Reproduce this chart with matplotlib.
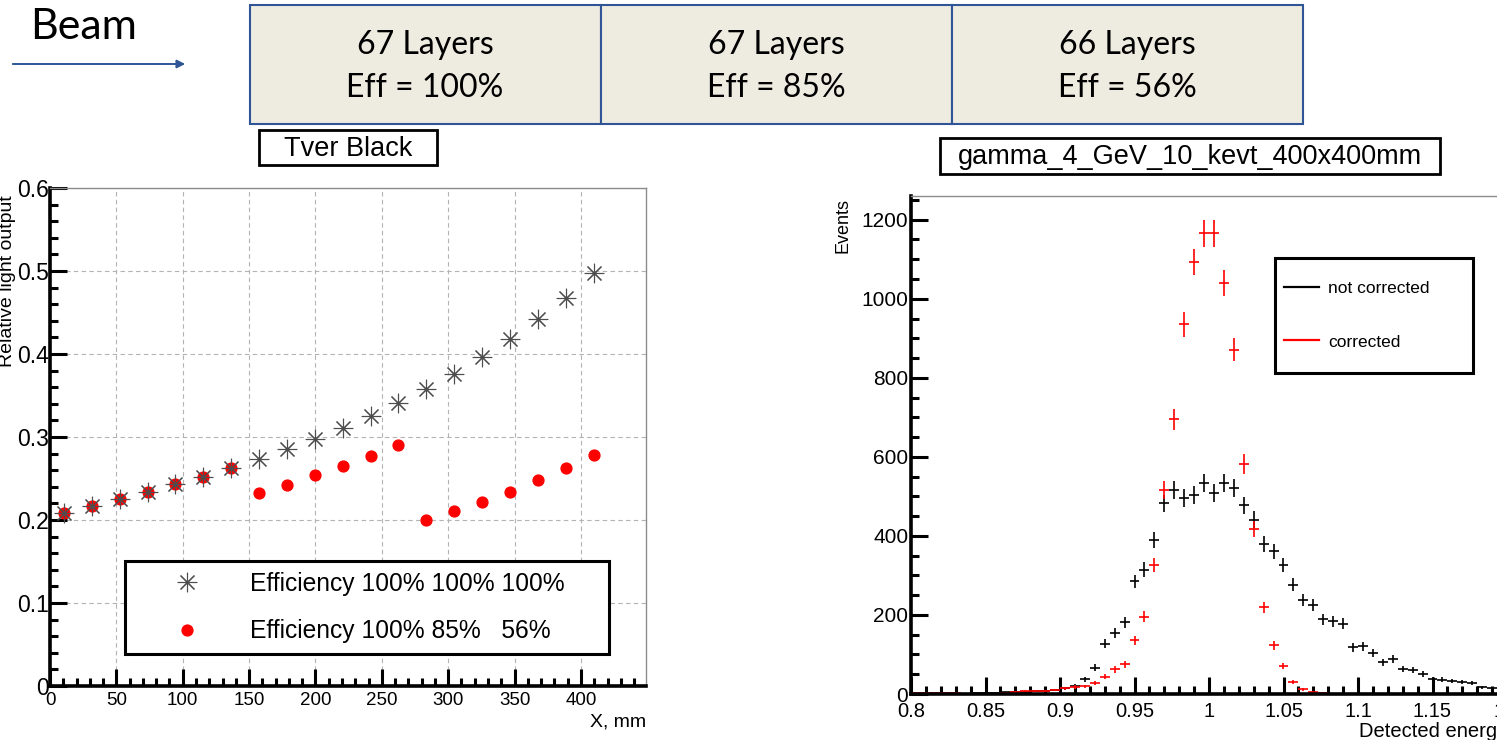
import numpy as np
import matplotlib
matplotlib.use("Agg")
from matplotlib import pyplot as plt
from matplotlib.patches import Rectangle, FancyArrowPatch
from matplotlib.lines import Line2D
from matplotlib.ticker import MultipleLocator, FuncFormatter

# ---- data ----
# left: relative light output along the module
pos_mm = [10.5, 31.5, 52.5, 73.5, 94.5, 115.5, 136.5, 157.5, 178.5, 199.5,
          220.5, 241.5, 262.5, 283.5, 304.5, 325.5, 346.5, 367.5, 388.5, 409.5]
light_full = [0.209, 0.217, 0.225, 0.234, 0.243, 0.252, 0.263, 0.274, 0.285, 0.298,
              0.311, 0.325, 0.341, 0.358, 0.376, 0.396, 0.418, 0.442, 0.468, 0.497]
light_reduced = [0.209, 0.217, 0.225, 0.234, 0.243, 0.252, 0.263, 0.233, 0.242, 0.254,
                 0.265, 0.277, 0.290, 0.200, 0.211, 0.222, 0.234, 0.248, 0.263, 0.278]
legend_left = ["Efficiency 100% 100% 100%", "Efficiency 100% 85%   56%"]

# right: detected energy histogram, 60 bins 0.8..1.2
edges = np.linspace(0.8, 1.2, 61)
not_corrected = [1, 0, 1, 1, 0, 1, 2, 2, 3, 4,
                 5, 6, 7, 8, 10, 15, 20, 37, 67, 127,
                 155, 181, 285, 315, 390, 482, 516, 496, 504, 533,
                 509, 534, 520, 477, 441, 380, 361, 326, 277, 238,
                 226, 189, 184, 178, 118, 121, 103, 80, 89, 63,
                 61, 50, 38, 36, 33, 30, 28, 17, 15, 11]
corrected = [2, 2, 3, 2, 3, 0, 1, 0, 1, 2,
             6, 7, 8, 8, 10, 14, 18, 19, 27, 44,
             62, 75, 136, 196, 326, 515, 695, 935, 1094, 1166,
             1166, 1040, 871, 582, 417, 219, 123, 71, 31, 12,
             5, 2, 1, 0, 0, 0, 0, 0, 0, 0,
             0, 0, 0, 0, 0, 0, 0, 0, 0, 0]
legend_right = ["not corrected", "corrected"]

layers = ["67 Layers", "67 Layers", "66 Layers"]
effs = ["Eff = 100%", "Eff = 85%", "Eff = 56%"]

W, H = 1497, 740
ROOT_FONT = "Liberation Sans"
SLIDE_FONT = "Lato"
BLUE = "#2F5597"
STAR = (8, 2, 0)   # 8-armed asterisk, like ROOT marker 3


def fig_rect(x, y, w, h):
    # pixel box (top-left origin) -> figure fraction
    return [x / W, 1 - (y + h) / H, w / W, h / H]


def root_axes(ax):
    for side in ("top", "right"):
        ax.spines[side].set_color("0.55")
        ax.spines[side].set_linewidth(1.0)
    for side in ("left", "bottom"):
        ax.spines[side].set_color("black")
        ax.spines[side].set_linewidth(2.6)
    ax.tick_params(which="both", direction="in", top=False, right=False,
                   width=2.2, colors="black")
    ax.tick_params(which="major", length=12)
    ax.tick_params(which="minor", length=6)


def boxed_legend(ax, handles, labels, box, size, **kw):
    # ROOT-like legend: plain thick frame, entries centred vertically in it
    ax.add_patch(Rectangle(box[:2], box[2], box[3], transform=ax.transAxes,
                           facecolor="white", edgecolor="black", lw=2.2,
                           zorder=4.8))
    return ax.legend(handles, labels, loc="center left", bbox_to_anchor=box,
                     mode="expand", prop={"family": ROOT_FONT, "size": size},
                     frameon=False, borderaxespad=0, **kw)


fig = plt.figure(figsize=(W / 100, H / 100), dpi=100)

# ---- slide header ----
fig.text(84 / W, 1 - 27 / H, "Beam", family=SLIDE_FONT, fontsize=31,
         ha="center", va="center")
fig.patches.append(FancyArrowPatch((10 / W, 1 - 64 / H), (188 / W, 1 - 64 / H),
                                   transform=fig.transFigure, arrowstyle="-|>",
                                   mutation_scale=12, color=BLUE, lw=1.4))
for i, (lay, eff) in enumerate(zip(layers, effs)):
    x0 = 250 + i * 351
    fig.patches.append(Rectangle(fig_rect(x0, 5, 351, 119)[:2], 351 / W, 119 / H,
                                 transform=fig.transFigure, facecolor="#EEECE1",
                                 edgecolor=BLUE, lw=1.5))
    fig.text((x0 + 175) / W, 1 - 45 / H, lay, family=SLIDE_FONT, fontsize=23,
             ha="center", va="center")
    fig.text((x0 + 175) / W, 1 - 88 / H, eff, family=SLIDE_FONT, fontsize=23,
             ha="center", va="center")

for (bx, by, bw, bh, label) in [(259, 130, 178, 35, "Tver Black"),
                                (940, 138, 500, 36, "gamma_4_GeV_10_kevt_400x400mm")]:
    fig.patches.append(Rectangle(fig_rect(bx, by, bw, bh)[:2], bw / W, bh / H,
                                 transform=fig.transFigure, facecolor="white",
                                 edgecolor="black", lw=2))
    fig.text((bx + bw / 2) / W, 1 - (by + bh / 2 + 1) / H, label, family=ROOT_FONT,
             fontsize=19.5, ha="center", va="center")

# ---- left plot: light output vs X ----
ax1 = fig.add_axes(fig_rect(50, 188, 596, 498))
root_axes(ax1)
ax1.plot(pos_mm, light_reduced, "o", color="red", ms=7.8, zorder=3)
ax1.plot(pos_mm, light_full, marker=STAR, ls="none", ms=14, mew=0.8,
         mec="0.3", zorder=4)
ax1.set_xlim(0, 449)
ax1.set_ylim(0, 0.6)
ax1.xaxis.set_major_locator(MultipleLocator(50))
ax1.xaxis.set_minor_locator(MultipleLocator(10))
ax1.yaxis.set_major_locator(MultipleLocator(0.1))
ax1.yaxis.set_minor_locator(MultipleLocator(0.02))
ax1.yaxis.set_major_formatter(FuncFormatter(lambda v, p: "%g" % round(v, 2)))
ax1.grid(True, which="major", ls=(0, (4, 3)), color="0.7", lw=0.8)
for lab in ax1.get_xticklabels():
    lab.set_family(ROOT_FONT)
    lab.set_fontsize(13.5)
for lab in ax1.get_yticklabels():
    lab.set_family(ROOT_FONT)
    lab.set_fontsize(16.5)
ax1.tick_params(axis="x", pad=4)
ax1.tick_params(axis="y", pad=1)
ax1.text(1.0, -0.072, "X, mm", transform=ax1.transAxes, ha="right", va="center",
         family=ROOT_FONT, fontsize=14)
ax1.text(-0.072, 0.985, "Relative light output", transform=ax1.transAxes,
         rotation=90, ha="center", va="top", family=ROOT_FONT, fontsize=14)
h_star = Line2D([], [], marker=STAR, ls="none", ms=14, mew=0.8, mec="0.3")
h_dot = Line2D([], [], marker="o", ls="none", ms=7.8, color="red")
boxed_legend(ax1, [h_star, h_dot], legend_left, (0.126, 0.064, 0.812, 0.187), 17.7,
             borderpad=0.45, handlelength=4.1, handletextpad=0.55, labelspacing=0.95)

# ---- right plot: detected energy histogram ----
ax2 = fig.add_axes(fig_rect(911, 196, 596, 498))
root_axes(ax2)
centers = 0.5 * (edges[:-1] + edges[1:])
half = 0.5 * (edges[1] - edges[0])
nc = np.array(not_corrected, dtype=float)
co = np.array(corrected, dtype=float)
ax2.errorbar(centers, nc, xerr=half, yerr=np.sqrt(nc), fmt="none",
             ecolor="black", elinewidth=1.2, capsize=0)
ax2.errorbar(centers, co, xerr=half, yerr=np.sqrt(co), fmt="none",
             ecolor="red", elinewidth=1.2, capsize=0)
ax2.set_xlim(0.8, 1.2)
ax2.set_ylim(0, 1260)
ax2.xaxis.set_major_locator(MultipleLocator(0.05))
ax2.xaxis.set_minor_locator(MultipleLocator(0.01))
ax2.yaxis.set_major_locator(MultipleLocator(200))
ax2.yaxis.set_minor_locator(MultipleLocator(50))
ax2.xaxis.set_major_formatter(FuncFormatter(lambda v, p: "%g" % round(v, 2)))
for lab in ax2.get_xticklabels():
    lab.set_family(ROOT_FONT)
    lab.set_fontsize(14.5)
for lab in ax2.get_yticklabels():
    lab.set_family(ROOT_FONT)
    lab.set_fontsize(15)
ax2.tick_params(axis="x", pad=6)
ax2.tick_params(axis="y", pad=2)
ax2.text(1.0, -0.075, "Detected energy", transform=ax2.transAxes, ha="right",
         va="center", family=ROOT_FONT, fontsize=14.5)
ax2.text(-0.114, 0.995, "Events", transform=ax2.transAxes, rotation=90,
         ha="center", va="top", family=ROOT_FONT, fontsize=13)
h_nc = Line2D([], [], color="black", lw=1.6)
h_co = Line2D([], [], color="red", lw=1.6)
boxed_legend(ax2, [h_nc, h_co], legend_right, (0.611, 0.645, 0.332, 0.231), 12.5,
             borderpad=0.5, handlelength=2.0, handletextpad=0.55, labelspacing=2.2)

fig.savefig("out.png", dpi=100)
